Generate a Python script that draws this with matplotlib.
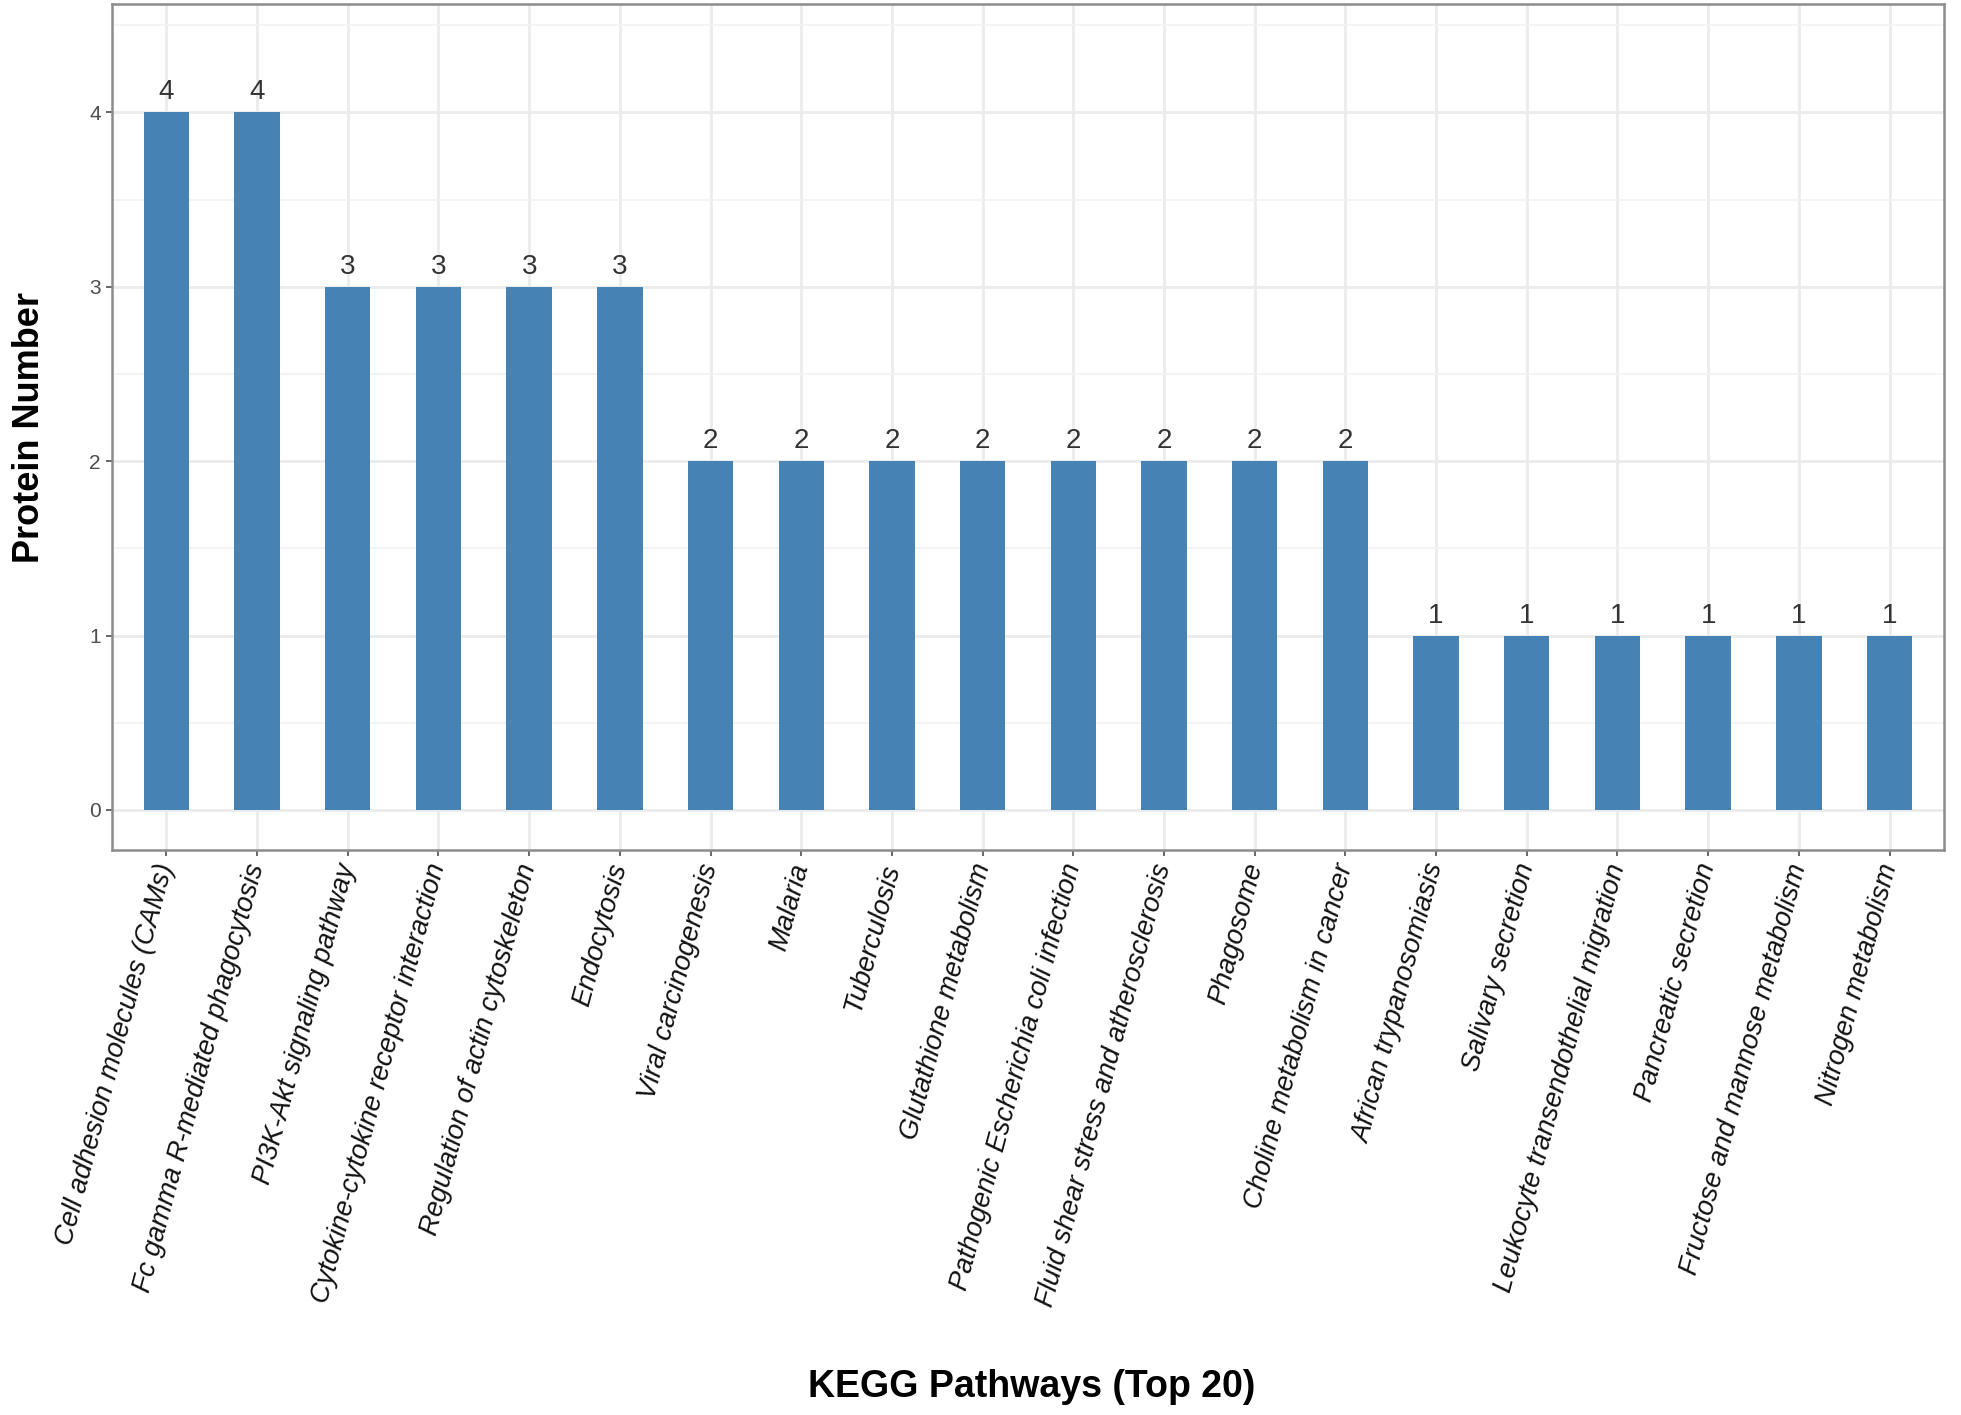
import matplotlib
matplotlib.use('Agg')
import matplotlib.pyplot as plt
from matplotlib.ticker import MultipleLocator

plt.rcParams['font.family'] = ['Liberation Sans', 'DejaVu Sans']

# KEGG pathway enrichment, top 20
pathways = ['Cell adhesion molecules (CAMs)',
            'Fc gamma R-mediated phagocytosis',
            'PI3K-Akt signaling pathway',
            'Cytokine-cytokine receptor interaction',
            'Regulation of actin cytoskeleton',
            'Endocytosis',
            'Viral carcinogenesis',
            'Malaria',
            'Tuberculosis',
            'Glutathione metabolism',
            'Pathogenic Escherichia coli infection',
            'Fluid shear stress and atherosclerosis',
            'Phagosome',
            'Choline metabolism in cancer',
            'African trypanosomiasis',
            'Salivary secretion',
            'Leukocyte transendothelial migration',
            'Pancreatic secretion',
            'Fructose and mannose metabolism',
            'Nitrogen metabolism']
protein_counts = [4, 4, 3, 3, 3, 3, 2, 2, 2, 2, 2, 2, 2, 2, 1, 1, 1, 1, 1, 1]
y_ticks = [0, 1, 2, 3, 4]

fig = plt.figure(figsize=(19.61, 14.15), dpi=100)
ax = fig.add_axes([0.0571, 0.3993, 0.9342, 0.5977])

xpos = list(range(len(pathways)))
ax.bar(xpos, protein_counts, width=0.5, color='#4682B4', zorder=3)

# value labels above bars
for x, v in zip(xpos, protein_counts):
    ax.annotate(str(v), (x, v), xytext=(0, 5), textcoords='offset points',
                ha='center', va='bottom', fontsize=20, color='#333333',
                zorder=4)

ax.set_xlim(-0.6, len(pathways) - 0.4)
ax.set_ylim(-0.23, 4.62)
ax.set_yticks(y_ticks)
ax.yaxis.set_minor_locator(MultipleLocator(0.5))
ax.set_xticks(xpos)
ax.set_xticklabels(pathways, rotation=75, ha='right', va='center',
                   rotation_mode='anchor', fontsize=19.5, style='italic',
                   color='#111111')
ax.tick_params(axis='y', labelsize=15, labelcolor='#4d4d4d', color='#4d4d4d',
               length=4, width=1.2, pad=4)
ax.tick_params(axis='x', color='#4d4d4d', length=4, width=1.2, pad=6)
ax.tick_params(which='minor', length=0)

# theme_bw-like grid
ax.grid(which='major', color='#ebebeb', linewidth=2, zorder=0)
ax.grid(which='minor', axis='y', color='#f2f2f2', linewidth=1.2, zorder=0)
ax.set_axisbelow(True)
for s in ax.spines.values():
    s.set_color('#8c8c8c')
    s.set_linewidth(1.8)

ax.set_ylabel('Protein Number', fontsize=26, fontweight='bold', labelpad=30)
fig.text(0.526, 0.02, 'KEGG Pathways (Top 20)', fontsize=27,
         fontweight='bold', ha='center', va='center')

fig.savefig('out.png', dpi=100)
